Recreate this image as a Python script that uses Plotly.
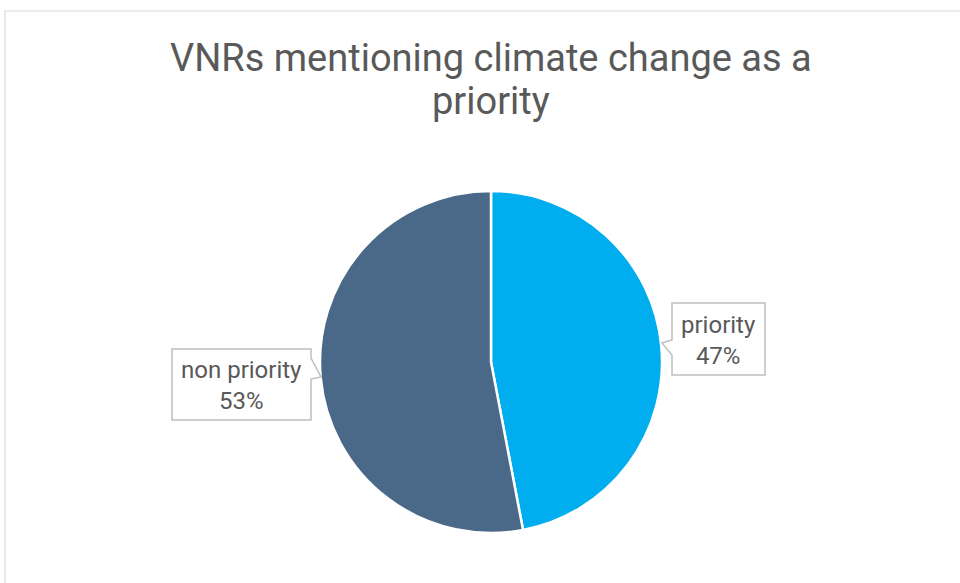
import plotly.graph_objects as go

# 데이터
labels = ["priority", "non priority"]
values = [47, 53]
colors = ["#00ADEE", "#4A6989"]
label_text = ["priority<br>47%", "non priority<br>53%"]
title_lines = ["VNRs mentioning climate change as a", "priority"]

W, H = 960, 583


def px(x):
    return x / W


def py(y):
    return (H - y) / H


# 파이 영역 (중심 491, 362, 반지름 170)
cx, cy, r = 491, 362, 171

fig = go.Figure(go.Pie(
    labels=labels,
    values=values,
    sort=False,
    direction="clockwise",
    rotation=0,
    marker=dict(colors=colors, line=dict(color="white", width=2.5)),
    textinfo="none",
    hoverinfo="label+percent",
    domain=dict(x=[px(cx - r), px(cx + r)], y=[py(cy + r), py(cy - r)]),
    showlegend=False,
))


def callout(points):
    return "M " + " L ".join(f"{px(x)},{py(y)}" for x, y in points) + " Z"


shapes = [
    # 차트 테두리
    dict(type="rect", xref="paper", yref="paper",
         x0=px(5), x1=px(970), y0=py(590), y1=py(11),
         line=dict(color="#D9D9D9", width=1.2), fillcolor="rgba(0,0,0,0)"),
    # non priority 말풍선
    dict(type="path", xref="paper", yref="paper",
         path=callout([(172, 349), (311, 349), (311, 358), (321, 377),
                       (311, 379), (311, 420), (172, 420)]),
         line=dict(color="#BFBFBF", width=1.5), fillcolor="white"),
    # priority 말풍선
    dict(type="path", xref="paper", yref="paper",
         path=callout([(672, 303), (765, 303), (765, 375), (672, 375),
                       (672, 355), (662, 343), (672, 340)]),
         line=dict(color="#BFBFBF", width=1.5), fillcolor="white"),
]

label_font = dict(size=24, color="#595959", family="Roboto")
title_font = dict(size=38, color="#595959", family="Roboto")

annotations = [
    dict(text=label_text[1], x=px(241.5), y=py(385), xref="paper", yref="paper",
         xanchor="center", yanchor="middle",
         showarrow=False, font=label_font, align="center"),
    dict(text=label_text[0], x=px(718.5), y=py(340), xref="paper", yref="paper",
         xanchor="center", yanchor="middle",
         showarrow=False, font=label_font, align="center"),
    dict(text=title_lines[0], x=px(491), y=py(58), xref="paper", yref="paper",
         xanchor="center", yanchor="middle",
         showarrow=False, font=title_font),
    dict(text=title_lines[1], x=px(491), y=py(101), xref="paper", yref="paper",
         xanchor="center", yanchor="middle",
         showarrow=False, font=title_font),
]

fig.update_layout(
    width=W,
    height=H,
    margin=dict(l=0, r=0, t=0, b=0),
    paper_bgcolor="white",
    plot_bgcolor="white",
    shapes=shapes,
    annotations=annotations,
    font=dict(family="Roboto"),
)

fig.write_html("out.html", config={"displayModeBar": False},
               post_script="document.body.style.margin='0';")
